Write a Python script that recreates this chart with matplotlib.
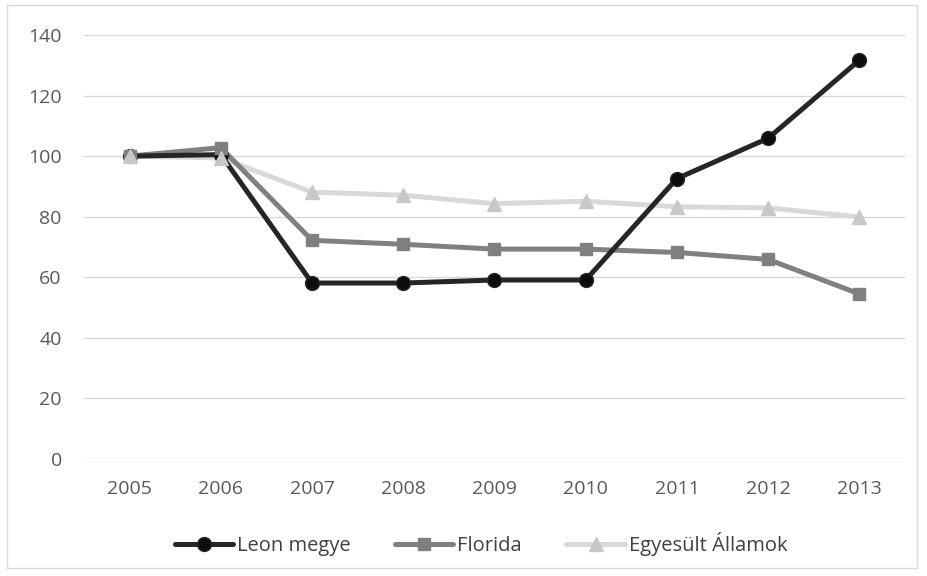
import matplotlib
matplotlib.use("Agg")
import matplotlib.pyplot as plt
from matplotlib.lines import Line2D
from matplotlib.patches import Rectangle

years = ["2005", "2006", "2007", "2008", "2009", "2010", "2011", "2012", "2013"]
leon_megye = [100, 100.5, 58.1, 58.1, 59.1, 59.1, 92.6, 105.9, 131.7]
florida = [100, 102.8, 72.2, 70.9, 69.3, 69.3, 68.2, 65.9, 54.5]
egyesult_allamok = [100, 99.4, 88.1, 87.1, 84.3, 85.1, 83.3, 82.9, 79.9]

series_names = ["Leon megye", "Florida", "Egyesült Államok"]
y_ticks = [0, 20, 40, 60, 80, 100, 120, 140]

plt.rcParams["font.family"] = ["Open Sans", "DejaVu Sans"]

fig = plt.figure(figsize=(9.28, 5.76), dpi=100)
W, H = 928, 576
ax = fig.add_axes([84 / W, 1 - 459 / H, (905 - 84) / W, (459 - 35) / H])

# outer chart frame
fig.patches.append(Rectangle((7 / W, 1 - 568 / H), (917 - 7) / W, (568 - 5) / H,
                             transform=fig.transFigure, fill=False,
                             edgecolor="#d9d9d9", linewidth=1.0))

styles = [
    dict(data=leon_megye, color="#262626", mfc="#0d0d0d", mec="#262626",
         marker="o", ms=10, lw=3.6, lz=2.3, mz=3.1),
    dict(data=florida, color="#808080", mfc="#7f7f7f", mec="#808080",
         marker="s", ms=8, lw=3.6, lz=2.2, mz=3.2),
    dict(data=egyesult_allamok, color="#d9d9d9", mfc="#c8c8c8", mec="#c8c8c8",
         marker="^", ms=9.5, lw=3.6, lz=2.1, mz=3.3),
]

x = list(range(len(years)))
handles = []
for name, s in zip(series_names, styles):
    ax.plot(x, s["data"], color=s["color"], lw=s["lw"], zorder=s["lz"],
            solid_joinstyle="round", solid_capstyle="round")
    ax.plot(x, s["data"], linestyle="none", marker=s["marker"], ms=s["ms"],
            mfc=s["mfc"], mec=s["mec"], mew=1.0, zorder=s["mz"])
    handles.append(Line2D([], [], color=s["color"], lw=s["lw"],
                          marker=s["marker"], ms=s["ms"], mfc=s["mfc"],
                          mec=s["mec"], solid_capstyle="round", label=name))

ax.set_xlim(-0.5, len(years) - 0.5)
ax.set_ylim(0, 140)
ax.set_yticks(y_ticks)
ax.set_xticks(x)
ax.set_xticklabels(years)
ax.yaxis.grid(True, color="#d9d9d9", lw=1.0, zorder=0)
ax.set_axisbelow(True)
for sp in ax.spines.values():
    sp.set_visible(False)
ax.tick_params(axis="both", length=0, labelsize=14, labelcolor="#595959")
ax.tick_params(axis="y", pad=16)
ax.tick_params(axis="x", pad=15)

fig.legend(handles=handles, loc="center", bbox_to_anchor=(481 / W, 1 - 544 / H),
           ncol=3, frameon=False, fontsize=14.5, handlelength=2.9,
           handletextpad=0.2, columnspacing=2.2, labelcolor="#404040")

fig.savefig("out.png", dpi=100)
